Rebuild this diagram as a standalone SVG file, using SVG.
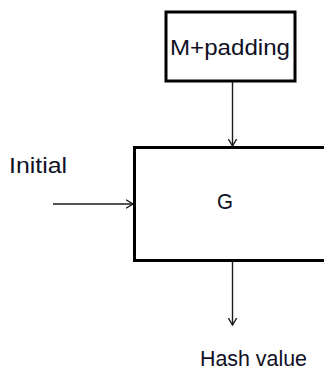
<svg xmlns="http://www.w3.org/2000/svg" width="324" height="371" viewBox="0 0 324 371">
  <style>
    .box { fill: #ffffff; stroke: #000000; stroke-width: 3; }
    .wire { fill: none; stroke: #1a1a1a; stroke-width: 1.4; }
    .label { font-family: "Liberation Sans", Arial, sans-serif; font-size: 22.5px; fill: #101024; }
  </style>
  <defs>
    <marker id="chevron" viewBox="0 0 8 10" refX="7.5" refY="5" markerWidth="8" markerHeight="10" markerUnits="userSpaceOnUse" orient="auto">
      <path d="M0.5,0.8 L7.5,5 L0.5,9.2" fill="none" stroke="#1a1a1a" stroke-width="1.4"/>
    </marker>
  </defs>

  <rect width="324" height="371" fill="#ffffff"/>

  <g id="connectors">
    <line class="wire" x1="232.5" y1="81" x2="232.5" y2="146" marker-end="url(#chevron)"/>
    <line class="wire" x1="53" y1="204" x2="133" y2="204" marker-end="url(#chevron)"/>
    <line class="wire" x1="232.5" y1="261" x2="232.5" y2="325" marker-end="url(#chevron)"/>
  </g>

  <g id="node-padding">
    <rect class="box" x="166" y="12" width="129" height="69" stroke-width="2.6"/>
    <text class="label" x="170" y="55" textLength="120" lengthAdjust="spacingAndGlyphs">M+padding</text>
  </g>

  <g id="node-g">
    <rect class="box" x="134.5" y="147.5" width="200" height="113"/>
    <text class="label" x="217" y="209" textLength="16" lengthAdjust="spacingAndGlyphs">G</text>
  </g>

  <g id="node-initial">
    <text class="label" x="9" y="173" textLength="58" lengthAdjust="spacingAndGlyphs">Initial</text>
  </g>

  <g id="node-hash">
    <text class="label" x="200" y="366" textLength="107" lengthAdjust="spacingAndGlyphs">Hash value</text>
  </g>
</svg>
